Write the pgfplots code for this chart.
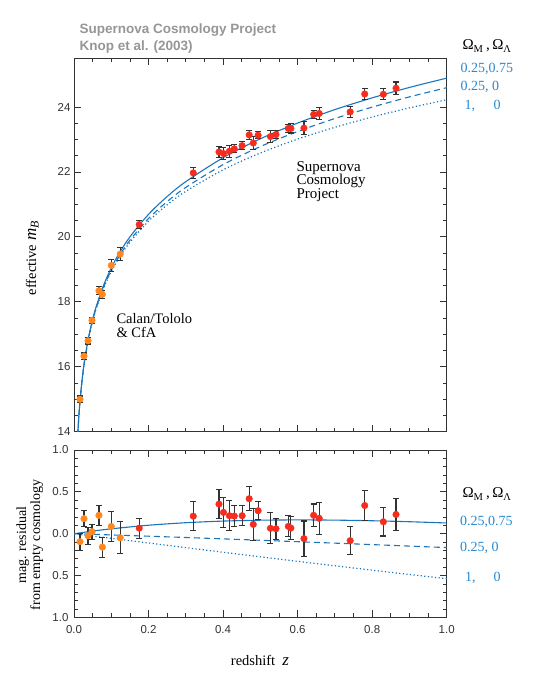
\documentclass[border=0pt]{standalone}
\usepackage{fontspec}
\setmainfont{Liberation Serif}
\setsansfont{Liberation Sans}
\usepackage{pgfplots}
\pgfplotsset{compat=1.18}
\usepackage{pgfplotstable}

\definecolor{snred}{RGB}{245,45,30}
\definecolor{snorange}{RGB}{255,135,30}
\definecolor{snblue}{RGB}{27,117,187}
\definecolor{legblue}{RGB}{40,138,208}
\definecolor{titlegray}{RGB}{150,150,150}
\definecolor{axgray}{RGB}{50,50,50}

% upper panel: model curves (z, m) for (0.25,0.75), (0.25,0), (1,0)
\pgfplotstableread{
z      L       O       E
0.010  13.897  13.890  13.886
0.012  14.296  14.287  14.282
0.015  14.786  14.775  14.769
0.020  15.420  15.404  15.396
0.025  15.913  15.893  15.883
0.030  16.317  16.294  16.282
0.040  16.959  16.928  16.911
0.050  17.460  17.421  17.401
0.060  17.872  17.827  17.802
0.080  18.529  18.470  18.437
0.100  19.045  18.972  18.931
0.120  19.471  19.385  19.336
0.150  20.000  19.897  19.835
0.200  20.694  20.563  20.482
0.250  21.243  21.088  20.987
0.300  21.701  21.524  21.403
0.400  22.437  22.225  22.065
0.500  23.021  22.781  22.583
0.600  23.505  23.245  23.011
0.700  23.920  23.645  23.374
0.800  24.281  23.996  23.691
0.900  24.602  24.311  23.972
1.000  24.889  24.595  24.223
}\curvesup

% lower panel: model residuals
\pgfplotstableread{
z     L       O        E
0.00  0.0000  0.0000   0.0000
0.05  0.0316  -0.0068  -0.0273
0.10  0.0588  -0.0141  -0.0548
0.20  0.1018  -0.0291  -0.1103
0.30  0.1318  -0.0447  -0.1657
0.40  0.1512  -0.0610  -0.2209
0.50  0.1618  -0.0777  -0.2756
0.60  0.1652  -0.0948  -0.3295
0.70  0.1626  -0.1121  -0.3827
0.80  0.1551  -0.1297  -0.4349
0.90  0.1435  -0.1474  -0.4863
1.00  0.1286  -0.1652  -0.5366
}\curveslow

% Calan/Tololo & CfA: z, effective mB, residual, error
\pgfplotstableread{
z       m      r       e
0.0161  15.00  -0.095  0.10
0.0268  16.33  0.180   0.095
0.0376  16.80  -0.024  0.10
0.0483  17.43  0.024   0.09
0.0670  18.34  0.220   0.12
0.0760  18.23  -0.160  0.12
0.1000  19.12  0.087   0.18
0.1240  19.47  -0.048  0.19
}\lowz

% Supernova Cosmology Project: z, effective mB, residual, error
\pgfplotstableread{
z      m       r       e
0.175  20.38   0.067   0.12
0.320  21.97   0.210   0.17
0.389  22.615  0.354   0.175
0.401  22.566  0.255   0.18
0.417  22.637  0.215   0.18
0.430  22.71   0.211   0.125
0.451  22.81   0.215   0.12
0.470  23.14   0.418   0.143
0.481  22.89   0.112   0.19
0.494  23.13   0.275   0.11
0.527  23.09   0.065   0.185
0.542  23.15   0.060   0.125
0.575  23.34   0.088   0.125
0.582  23.34   0.068   0.14
0.617  23.35   -0.058  0.21
0.643  23.77   0.220   0.135
0.658  23.80   0.184   0.19
0.741  23.85   -0.083  0.17
0.780  24.40   0.337   0.18
0.830  24.39   0.143   0.17
0.864  24.58   0.230   0.19
}\highz

\pgfplotsset{
  snaxis/.style={
    scale only axis, width=372.7pt, xmin=0, xmax=1,
    axis line style={axgray, line width=0.8pt},
    tick style={axgray, line width=0.8pt},
    tick align=inside, xtick pos=both, ytick pos=both,
    major tick length=7pt, minor tick length=4pt,
    tick label style={font=\sffamily\fontsize{11.5}{13}\selectfont, text=axgray},
    /pgf/number format/assume math mode=true,
    xtick={0,0.2,0.4,0.6,0.8,1}, minor x tick num=3,
  },
  errpts/.style={
    only marks, mark=*, mark size=3.3pt,
    mark options={draw=#1, fill=#1},
    error bars/.cd, y dir=both, y explicit,
    error bar style={line width=1.1pt, axgray},
    error mark options={rotate=90, mark size=3pt, line width=1.1pt, axgray},
  },
  mcurve/.style={snblue, line width=1.1pt, smooth},
}

\begin{document}
\begin{tikzpicture}
\path (0pt,0pt) rectangle (542pt,684pt);

% ---------- upper panel ----------
\begin{axis}[snaxis, height=373.4pt, at={(74pt,252.3pt)}, anchor=south west,
  ymin=14, ymax=25.5, ytick={14,16,18,20,22,24}, minor y tick num=3,
  xticklabels={}]
\addplot[mcurve] table[x=z, y=L] {\curvesup};
\addplot[mcurve, dash pattern=on 6pt off 4pt] table[x=z, y=O] {\curvesup};
\addplot[mcurve, line width=1.2pt, dash pattern=on 1.2pt off 2.4pt] table[x=z, y=E] {\curvesup};
\addplot[errpts=snorange] table[x=z, y=m, y error=e] {\lowz};
\addplot[errpts=snred] table[x=z, y=m, y error=e] {\highz};
\end{axis}

% ---------- lower panel ----------
\begin{axis}[snaxis, height=167.5pt, at={(74pt,66.5pt)}, anchor=south west,
  ymin=-1, ymax=1, ytick={-1,-0.5,0,0.5,1}, minor y tick num=4,
  yticklabels={1.0,0.5,0.0,0.5,1.0},
  xticklabels={0.0,0.2,0.4,0.6,0.8,1.0},
  xticklabel style={yshift=-4pt}, yticklabel style={xshift=-2pt}]
\addplot[mcurve] table[x=z, y=L] {\curveslow};
\addplot[mcurve, dash pattern=on 6pt off 4pt] table[x=z, y=O] {\curveslow};
\addplot[mcurve, line width=1.2pt, dash pattern=on 1.2pt off 2.4pt] table[x=z, y=E] {\curveslow};
\addplot[errpts=snorange] table[x=z, y=r, y error=e] {\lowz};
\addplot[errpts=snred] table[x=z, y=r, y error=e] {\highz};
\end{axis}

% ---------- titles and labels ----------
\node[anchor=base west, font=\sffamily\bfseries\fontsize{13.5}{16}\selectfont, text=titlegray] at (76pt,650pt) {Supernova Cosmology Project};
\node[anchor=base west, font=\sffamily\bfseries\fontsize{13.5}{16}\selectfont, text=titlegray] at (76pt,633pt) {Knop et al. (2003)};

\node[anchor=base, rotate=90, font=\fontsize{14.5}{16}\selectfont] at (36pt,426pt) {effective {\fontsize{17}{18}\selectfont\textit{m}\textsubscript{\textit{B}}}};
\node[anchor=base, rotate=90, font=\fontsize{14}{15}\selectfont] at (26pt,139pt) {mag. residual};
\node[anchor=base, rotate=90, font=\fontsize{14}{15}\selectfont] at (40pt,139pt) {from empty cosmology};
\node[anchor=base, font=\fontsize{14.5}{16}\selectfont] at (260pt,18pt) {redshift\ \ {\fontsize{17}{18}\selectfont\textit{z}}};

% annotations
\node[anchor=base west, font=\fontsize{15}{14}\selectfont] at (293pt,512.5pt) {Supernova};
\node[anchor=base west, font=\fontsize{15}{14}\selectfont] at (293pt,499pt) {Cosmology};
\node[anchor=base west, font=\fontsize{15}{14}\selectfont] at (293pt,485.5pt) {Project};
\node[anchor=base west, font=\fontsize{14.5}{14}\selectfont] at (113pt,360pt) {Calan/Tololo};
\node[anchor=base west, font=\fontsize{14.5}{14}\selectfont] at (113pt,346.7pt) {\& CfA};

% legend, upper
\node[anchor=base west, font=\fontsize{15}{16}\selectfont] at (459pt,634pt) {Ω\textsubscript{M}\,,\,Ω\textsubscript{Λ}};
\node[anchor=base west, font=\fontsize{14}{16}\selectfont, text=legblue] at (457pt,611.7pt) {0.25,0.75};
\node[anchor=base west, font=\fontsize{14}{16}\selectfont, text=legblue] at (457pt,593pt) {0.25, 0};
\node[anchor=base west, font=\fontsize{14}{16}\selectfont, text=legblue] at (461pt,574.7pt) {1,};
\node[anchor=base west, font=\fontsize{14}{16}\selectfont, text=legblue] at (490pt,574.7pt) {0};
% legend, lower
\node[anchor=base west, font=\fontsize{15}{16}\selectfont] at (459pt,186pt) {Ω\textsubscript{M}\,,\,Ω\textsubscript{Λ}};
\node[anchor=base west, font=\fontsize{14}{16}\selectfont, text=legblue] at (456.7pt,158pt) {0.25,0.75};
\node[anchor=base west, font=\fontsize{14}{16}\selectfont, text=legblue] at (456.7pt,132.3pt) {0.25, 0};
\node[anchor=base west, font=\fontsize{14}{16}\selectfont, text=legblue] at (461.7pt,102.3pt) {1,};
\node[anchor=base west, font=\fontsize{14}{16}\selectfont, text=legblue] at (490pt,102.3pt) {0};
\end{tikzpicture}
\end{document}
